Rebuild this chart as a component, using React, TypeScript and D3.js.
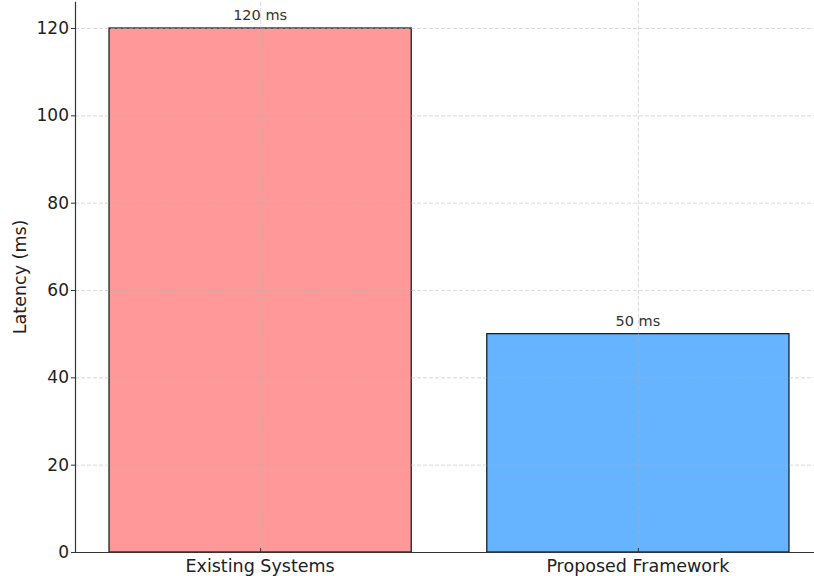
import React, { useEffect, useRef } from 'react';
import * as d3 from 'd3';

const categories = ['Existing Systems', 'Proposed Framework'];
const latency = [120, 50];
const barLabels = ['120 ms', '50 ms'];
const barColors = ['#ff9999', '#66b3ff'];
const yTicks = [0, 20, 40, 60, 80, 100, 120];

const W = 814;
const H = 576;

const App: React.FC = () => {
  const svgRef = useRef<SVGSVGElement>(null);

  useEffect(() => {
    if (!svgRef.current) return;
    const svg = d3.select(svgRef.current);
    svg.selectAll('*').remove();

    const font = 'DejaVu Sans, sans-serif';
    const axisLeft = 75;
    const axisBottom = 552;

    // matplotlib-like limits: bars of width 0.8, 5% margins
    const x = d3.scaleLinear().domain([-0.49, 1.49]).range([axisLeft, 823]);
    const y = d3.scaleLinear().domain([0, 126]).range([axisBottom, 1.8]);
    const barW = x(0.8) - x(0);

    // Bars
    svg.append('g')
      .selectAll('rect')
      .data(latency)
      .join('rect')
      .attr('x', (_, i) => x(i) - barW / 2)
      .attr('y', d => y(d))
      .attr('width', barW)
      .attr('height', d => y(0) - y(d))
      .attr('fill', (_, i) => barColors[i])
      .attr('stroke', '#111')
      .attr('stroke-width', 1.2);

    // Grid (drawn over bars)
    const grid = svg.append('g')
      .attr('stroke', '#b0b0b0')
      .attr('stroke-opacity', 0.6)
      .attr('stroke-width', 0.8)
      .attr('stroke-dasharray', '4,2');
    grid.selectAll('line.h')
      .data(yTicks)
      .join('line')
      .attr('class', 'h')
      .attr('x1', axisLeft)
      .attr('x2', W)
      .attr('y1', d => y(d) + 0.5)
      .attr('y2', d => y(d) + 0.5);
    grid.selectAll('line.v')
      .data(categories)
      .join('line')
      .attr('class', 'v')
      .attr('x1', (_, i) => x(i) + 0.5)
      .attr('x2', (_, i) => x(i) + 0.5)
      .attr('y1', y(126))
      .attr('y2', axisBottom);

    // Spines
    svg.append('line')
      .attr('x1', axisLeft + 0.5).attr('x2', axisLeft + 0.5)
      .attr('y1', y(126)).attr('y2', axisBottom + 0.5)
      .attr('stroke', '#333').attr('stroke-width', 1.2);
    svg.append('line')
      .attr('x1', axisLeft).attr('x2', W)
      .attr('y1', axisBottom + 0.5).attr('y2', axisBottom + 0.5)
      .attr('stroke', '#333').attr('stroke-width', 1.2);

    // Y ticks
    const yt = svg.append('g');
    yt.selectAll('line')
      .data(yTicks)
      .join('line')
      .attr('x1', axisLeft - 4)
      .attr('x2', axisLeft)
      .attr('y1', d => y(d) + 0.5)
      .attr('y2', d => y(d) + 0.5)
      .attr('stroke', '#333');
    yt.selectAll('text')
      .data(yTicks)
      .join('text')
      .attr('x', axisLeft - 6)
      .attr('y', d => y(d))
      .attr('dy', '0.36em')
      .attr('text-anchor', 'end')
      .attr('font-family', font)
      .attr('font-size', 17)
      .attr('fill', '#222')
      .text(d => d);

    // X ticks
    const xt = svg.append('g');
    xt.selectAll('line')
      .data(categories)
      .join('line')
      .attr('x1', (_, i) => x(i) + 0.5)
      .attr('x2', (_, i) => x(i) + 0.5)
      .attr('y1', axisBottom - 4)
      .attr('y2', axisBottom)
      .attr('stroke', '#333');
    xt.selectAll('text')
      .data(categories)
      .join('text')
      .attr('x', (_, i) => x(i))
      .attr('y', 572)
      .attr('text-anchor', 'middle')
      .attr('font-family', font)
      .attr('font-size', 17.5)
      .attr('fill', '#222')
      .text(d => d);

    // Value labels
    svg.append('g')
      .selectAll('text')
      .data(latency)
      .join('text')
      .attr('x', (_, i) => x(i))
      .attr('y', d => y(d) - 8)
      .attr('text-anchor', 'middle')
      .attr('font-family', font)
      .attr('font-size', 14.5)
      .attr('fill', '#333')
      .text((_, i) => barLabels[i]);

    // Y label
    svg.append('text')
      .attr('transform', `translate(26, ${y(63)}) rotate(-90)`)
      .attr('text-anchor', 'middle')
      .attr('font-family', font)
      .attr('font-size', 17.5)
      .attr('fill', '#222')
      .text('Latency (ms)');
  }, []);

  return (
    <svg
      ref={svgRef}
      width={W}
      height={H}
      style={{ position: 'absolute', left: 0, top: 0, background: '#fff' }}
    />
  );
};

export default App;
